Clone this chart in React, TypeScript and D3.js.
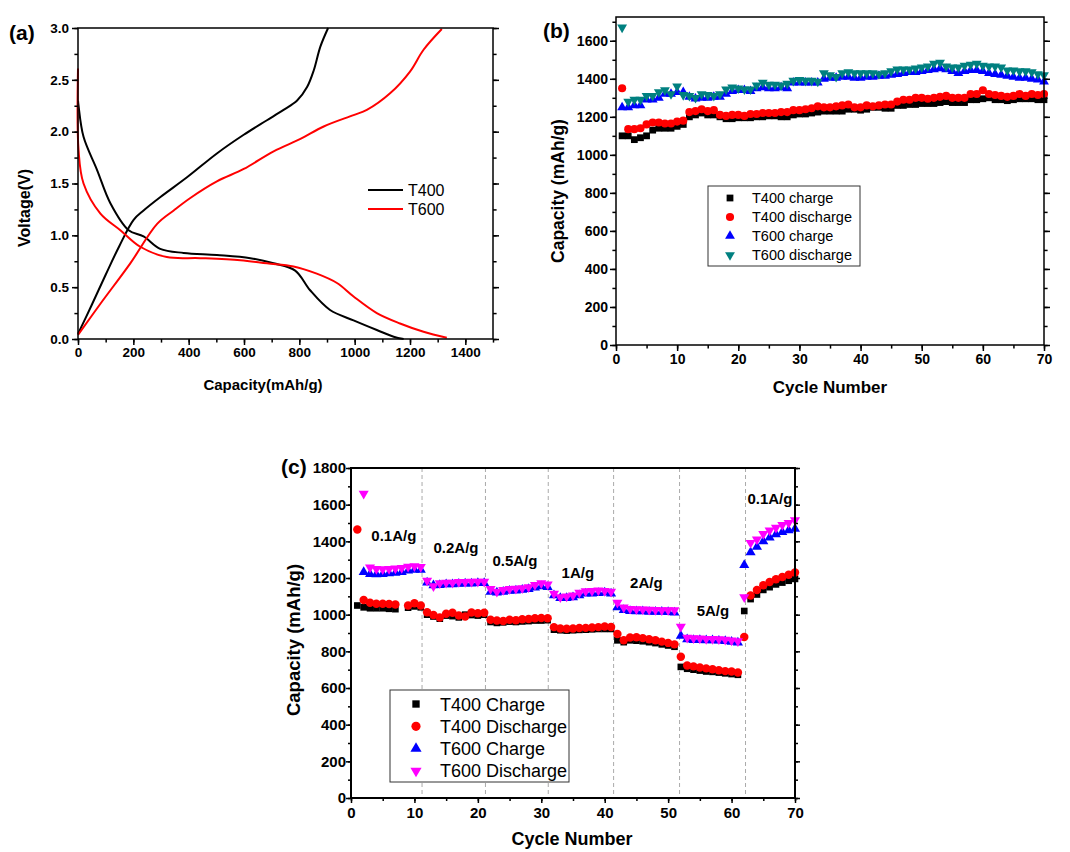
import React, { useEffect, useRef } from 'react';
import * as d3 from 'd3';

const FONT = "'Liberation Sans', Arial, Helvetica, sans-serif";

// ---- (a) charge / discharge profiles ----
const t400ChargeCap = [0, 50, 100, 150, 201, 237, 298, 394, 502, 599, 683, 743, 792, 828, 852, 876, 904];
const t400ChargeV = [0.05, 0.33, 0.62, 0.9, 1.15, 1.24, 1.37, 1.56, 1.79, 1.97, 2.11, 2.21, 2.3, 2.43, 2.59, 2.82, 3.0];
const t400DischargeCap = [0, 2, 20, 69, 117, 183, 237, 297, 382, 502, 623, 707, 785, 839, 911, 996, 1080, 1141, 1177];
const t400DischargeV = [2.3, 2.25, 1.95, 1.63, 1.31, 1.05, 0.99, 0.87, 0.83, 0.81, 0.78, 0.73, 0.66, 0.47, 0.28, 0.18, 0.087, 0.022, 0.0];
const t600ChargeCap = [0, 81, 189, 286, 346, 406, 502, 599, 707, 804, 888, 996, 1044, 1128, 1200, 1249, 1315];
const t600ChargeV = [0.04, 0.34, 0.73, 1.11, 1.24, 1.36, 1.52, 1.64, 1.81, 1.93, 2.05, 2.16, 2.21, 2.37, 2.58, 2.79, 2.99];
const t600DischargeCap = [0, 2, 20, 81, 153, 225, 321, 442, 587, 683, 779, 863, 936, 996, 1080, 1164, 1249, 1333];
const t600DischargeV = [2.61, 1.82, 1.5, 1.21, 1.05, 0.89, 0.79, 0.78, 0.76, 0.73, 0.7, 0.63, 0.54, 0.41, 0.25, 0.15, 0.07, 0.013];

// ---- (b) cycling at constant rate, cycles 1..70 ----
const cyclesB = d3.range(1, 71);
const bT400Charge = [1100, 1100, 1080, 1090, 1100, 1130, 1140, 1140, 1140, 1150, 1160, 1200, 1210, 1220, 1210, 1210, 1200, 1190, 1190, 1195,
  1195, 1195, 1200, 1200, 1205, 1205, 1200, 1200, 1210, 1215, 1215, 1220, 1225, 1230, 1230, 1230, 1230, 1240, 1240, 1235,
  1240, 1250, 1250, 1245, 1245, 1260, 1260, 1265, 1265, 1270, 1270, 1270, 1275, 1280, 1275, 1275, 1275, 1290, 1290, 1295,
  1300, 1290, 1290, 1285, 1290, 1295, 1295, 1295, 1290, 1290];
const bT400Discharge = [1350, 1135, 1135, 1140, 1160, 1170, 1170, 1165, 1165, 1175, 1180, 1225, 1230, 1240, 1230, 1235, 1210, 1205, 1210, 1210,
  1205, 1215, 1215, 1220, 1220, 1220, 1225, 1225, 1235, 1235, 1240, 1245, 1255, 1250, 1250, 1255, 1260, 1265, 1250, 1250,
  1260, 1255, 1260, 1265, 1265, 1280, 1290, 1290, 1300, 1300, 1295, 1300, 1305, 1310, 1300, 1300, 1300, 1320, 1320, 1340,
  1320, 1315, 1310, 1305, 1310, 1320, 1310, 1320, 1315, 1320];
const bT600Charge = [1250, 1250, 1260, 1260, 1290, 1290, 1300, 1320, 1320, 1330, 1330, 1305, 1295, 1300, 1300, 1305, 1305, 1320, 1335, 1340,
  1340, 1335, 1350, 1355, 1350, 1350, 1355, 1350, 1380, 1380, 1380, 1380, 1380, 1400, 1405, 1405, 1410, 1410, 1405, 1405,
  1410, 1410, 1415, 1415, 1420, 1425, 1430, 1435, 1435, 1440, 1445, 1450, 1455, 1450, 1440, 1430, 1440, 1445, 1445, 1440,
  1430, 1425, 1420, 1415, 1410, 1405, 1405, 1400, 1395, 1385];
const bT600Discharge = [1670, 1280, 1290, 1290, 1310, 1310, 1330, 1340, 1320, 1360, 1315, 1310, 1300, 1320, 1315, 1310, 1320, 1345, 1355, 1350,
  1345, 1345, 1365, 1380, 1370, 1370, 1365, 1375, 1390, 1395, 1390, 1390, 1385, 1430, 1420, 1410, 1430, 1435, 1430, 1430,
  1430, 1430, 1425, 1430, 1440, 1450, 1450, 1450, 1455, 1460, 1465, 1480, 1485, 1465, 1460, 1460, 1470, 1475, 1480, 1470,
  1465, 1465, 1460, 1445, 1445, 1440, 1440, 1435, 1425, 1420];

// ---- (c) rate capability, cycles 1..70 ----
const cyclesC = d3.range(1, 71);
const cT400Charge = [1050, 1040, 1035, 1035, 1035, 1032, 1030, null, 1038, 1045, 1040,
  1000, 990, 978, 995, 992, 985, 1000, 998, 995, 1000,
  960, 955, 958, 962, 960, 963, 965, 968, 968, 970,
  918, 915, 913, 915, 917, 918, 920, 922, 922, 922,
  860, 850, 860, 858, 855, 850, 845, 838, 832, 825,
  715, 705, 700, 695, 690, 688, 684, 680, 676, 672,
  1020, 1085, 1110, 1135, 1150, 1165, 1175, 1185, 1195];
const cT400Discharge = [1465, 1080, 1065, 1060, 1060, 1058, 1055, null, 1050, 1062, 1050,
  1013, 998, 985, 1005, 1010, 995, 990, 1012, 1008, 1010,
  972, 968, 965, 972, 970, 975, 976, 980, 982, 980,
  932, 925, 923, 925, 927, 928, 930, 932, 935, 933,
  895, 860, 875, 877, 872, 866, 860, 853, 846, 838,
  770, 723, 718, 712, 707, 702, 697, 692, 690, 685,
  878, 1105, 1135, 1160, 1178, 1193, 1205, 1218, 1230];
const cT600Charge = [null, 1232, 1222, 1220, 1222, 1225, 1228, 1232, 1240, 1245, 1245,
  1175, 1160, 1162, 1165, 1165, 1168, 1170, 1170, 1172, 1172,
  1125, 1120, 1125, 1130, 1132, 1135, 1140, 1148, 1155, 1150,
  1105, 1090, 1090, 1095, 1105, 1115, 1115, 1118, 1120, 1115,
  1040, 1025, 1020, 1018, 1018, 1016, 1015, 1015, 1014, 1012,
  885, 865, 862, 862, 860, 860, 858, 856, 852, 848,
  1270, 1340, 1370, 1400, 1420, 1438, 1450, 1460, 1468];
const cT600Discharge = [null, 1660, 1258, 1250, 1248, 1250, 1252, 1255, 1262, 1265, 1260,
  1185, 1155, 1172, 1175, 1175, 1178, 1178, 1180, 1180, 1180,
  1140, 1125, 1135, 1140, 1142, 1145, 1150, 1162, 1172, 1165,
  1115, 1095, 1100, 1105, 1120, 1128, 1130, 1132, 1130, 1125,
  1065, 1040, 1032, 1030, 1028, 1027, 1026, 1025, 1025, 1024,
  935, 875, 872, 870, 868, 868, 866, 864, 860, 855,
  1095, 1392, 1410, 1440, 1460, 1475, 1490, 1500, 1515];
const rateBoundaries = [11.2, 21.2, 31.1, 41.4, 51.8, 62.2];
const rateLabels = ['0.1A/g', '0.2A/g', '0.5A/g', '1A/g', '2A/g', '5A/g', '0.1A/g'];
const rateLabelCycle = [3.2, 13, 22.3, 33.2, 44, 54.5, 62.5];
const rateLabelCap = [1403, 1334, 1267, 1200, 1146, 995, 1602];

const legendA = ['T400', 'T600'];
const legendB = ['T400 charge', 'T400 discharge', 'T600 charge', 'T600 discharge'];
const legendC = ['T400 Charge', 'T400 Discharge', 'T600 Charge', 'T600 Discharge'];

// Panel boxes (pixel frame of each plot area)
const boxA = { left: 78, right: 493, top: 28, bottom: 339 };
const boxB = { left: 616, right: 1044, top: 17, bottom: 345 };
const boxC = { left: 351, right: 795, top: 468, bottom: 798 };

function styleAxis(g, size) {
    g.select('.domain').remove();
    g.selectAll('line').attr('stroke', '#000').attr('stroke-width', 1.5);
    g.selectAll('text')
        .attr('font-family', FONT)
        .attr('font-weight', 'bold')
        .attr('font-size', size)
        .attr('fill', '#000');
}

// Frame + ticks on left, bottom and right (outward), like Origin
function drawFrame(svg, x, y, box, cfg) {
    const g = svg.append('g');
    const t = cfg.tick;

    g.append('g').attr('transform', `translate(0,${box.bottom})`)
        .call(d3.axisBottom(x).tickValues(cfg.xMinor).tickSize(t * 0.6).tickFormat(() => ''))
        .call(s => styleAxis(s, cfg.font));
    g.append('g').attr('transform', `translate(0,${box.bottom})`)
        .call(d3.axisBottom(x).tickValues(cfg.xMajor).tickSize(t).tickPadding(cfg.xPad).tickFormat(cfg.xFmt))
        .call(s => styleAxis(s, cfg.font));

    g.append('g').attr('transform', `translate(${box.left},0)`)
        .call(d3.axisLeft(y).tickValues(cfg.yMinor).tickSize(t * 0.6).tickFormat(() => ''))
        .call(s => styleAxis(s, cfg.font));
    g.append('g').attr('transform', `translate(${box.left},0)`)
        .call(d3.axisLeft(y).tickValues(cfg.yMajor).tickSize(t).tickPadding(cfg.yPad).tickFormat(cfg.yFmt))
        .call(s => styleAxis(s, cfg.font));

    g.append('g').attr('transform', `translate(${box.right},0)`)
        .call(d3.axisRight(y).tickValues(cfg.yMinor).tickSize(t * 0.6).tickFormat(() => ''))
        .call(s => styleAxis(s, cfg.font));
    g.append('g').attr('transform', `translate(${box.right},0)`)
        .call(d3.axisRight(y).tickValues(cfg.yMajor).tickSize(t).tickFormat(() => ''))
        .call(s => styleAxis(s, cfg.font));

    g.append('rect')
        .attr('x', box.left).attr('y', box.top)
        .attr('width', box.right - box.left).attr('height', box.bottom - box.top)
        .attr('fill', 'none').attr('stroke', '#000').attr('stroke-width', cfg.frame);
}

function boldText(svg, txt, x, y, size, anchor = 'start', rotate = false) {
    const t = svg.append('text')
        .attr('font-family', FONT).attr('font-weight', 'bold')
        .attr('font-size', size).attr('text-anchor', anchor).attr('fill', '#000')
        .text(txt);
    if (rotate) t.attr('transform', `translate(${x},${y}) rotate(-90)`);
    else t.attr('x', x).attr('y', y);
    return t;
}

const symbolOf = (kind, size) => {
    const type = kind === 'square' ? d3.symbolSquare : kind === 'circle' ? d3.symbolCircle : d3.symbolTriangle;
    return d3.symbol().type(type).size(size)();
};

function scatter(svg, x, y, cycles, values, kind, color, size) {
    const pts = values.map((v, i) => ({ c: cycles[i], v })).filter(d => d.v != null);
    const path = symbolOf(kind, size);
    svg.append('g').selectAll('path')
        .data(pts)
        .join('path')
        .attr('d', path)
        .attr('fill', color)
        .attr('transform', d => `translate(${x(d.c)},${y(d.v)})${kind === 'down' ? ' rotate(180)' : ''}`);
}

function App() {
    const ref = useRef(null);

    useEffect(() => {
        const svg = d3.select(ref.current);
        svg.selectAll('*').remove();

        // ================= (a) =================
        const xA = d3.scaleLinear().domain([0, 1500]).range([boxA.left, boxA.right]);
        const yA = d3.scaleLinear().domain([0, 3]).range([boxA.bottom, boxA.top]);
        const line = d3.line().x(d => xA(d[0])).y(d => yA(d[1])).curve(d3.curveCatmullRom);
        const curvesA = [
            { cap: t400ChargeCap, v: t400ChargeV, color: '#000' },
            { cap: t400DischargeCap, v: t400DischargeV, color: '#000' },
            { cap: t600ChargeCap, v: t600ChargeV, color: '#f00' },
            { cap: t600DischargeCap, v: t600DischargeV, color: '#f00' },
        ];
        curvesA.forEach(c => {
            svg.append('path')
                .datum(c.cap.map((x, i) => [x, c.v[i]]))
                .attr('d', line)
                .attr('fill', 'none')
                .attr('stroke', c.color)
                .attr('stroke-width', 2);
        });
        drawFrame(svg, xA, yA, boxA, {
            xMajor: d3.range(0, 1401, 200), xMinor: d3.range(0, 1501, 100),
            yMajor: d3.range(0, 3.01, 0.5), yMinor: d3.range(0, 3.01, 0.25),
            xFmt: d3.format('d'), yFmt: d3.format('.1f'),
            tick: 6, xPad: 2, yPad: 3, font: 13.5, frame: 1.5,
        });
        // legend (a)
        legendA.forEach((name, i) => {
            const ly = 190 + i * 19;
            svg.append('line').attr('x1', 368).attr('x2', 403).attr('y1', ly).attr('y2', ly)
                .attr('stroke', i === 0 ? '#000' : '#f00').attr('stroke-width', 2);
            svg.append('text').attr('x', 408).attr('y', ly + 6)
                .attr('font-family', FONT).attr('font-size', 16).text(name);
        });
        boldText(svg, 'Capacity(mAh/g)', 263, 390, 15, 'middle');
        boldText(svg, 'Voltage(V)', 30, 208, 16, 'middle', true);
        boldText(svg, '(a)', 9, 40, 21);

        // ================= (b) =================
        const xB = d3.scaleLinear().domain([0, 70]).range([boxB.left, boxB.right]);
        const yB = d3.scaleLinear().domain([0, 1725]).range([boxB.bottom, boxB.top]);
        const seriesB = [
            { v: bT400Charge, kind: 'square', color: '#000', size: 46 },
            { v: bT400Discharge, kind: 'circle', color: '#f00', size: 52 },
            { v: bT600Charge, kind: 'up', color: '#00f', size: 42 },
            { v: bT600Discharge, kind: 'down', color: '#008080', size: 42 },
        ];
        seriesB.forEach(s => scatter(svg, xB, yB, cyclesB, s.v, s.kind, s.color, s.size));
        drawFrame(svg, xB, yB, boxB, {
            xMajor: d3.range(0, 71, 10), xMinor: d3.range(0, 71, 5),
            yMajor: d3.range(0, 1601, 200), yMinor: d3.range(0, 1701, 100),
            xFmt: d3.format('d'), yFmt: d3.format('d'),
            tick: 6, xPad: 3, yPad: 2, font: 14, frame: 1.5,
        });
        svg.append('rect').attr('x', 708).attr('y', 186).attr('width', 152).attr('height', 80)
            .attr('fill', '#fff').attr('stroke', '#333').attr('stroke-width', 1);
        legendB.forEach((name, i) => {
            const ly = 198 + i * 19;
            const s = seriesB[i];
            svg.append('path').attr('d', symbolOf(s.kind, s.size)).attr('fill', s.color)
                .attr('transform', `translate(730,${ly})${s.kind === 'down' ? ' rotate(180)' : ''}`);
            svg.append('text').attr('x', 752).attr('y', ly + 5)
                .attr('font-family', FONT).attr('font-size', 14.5).text(name);
        });
        boldText(svg, 'Cycle Number', 830, 393, 17, 'middle');
        boldText(svg, 'Capacity (mAh/g)', 564, 191, 17.5, 'middle', true);
        boldText(svg, '(b)', 543, 38, 21);

        // ================= (c) =================
        const xC = d3.scaleLinear().domain([0, 70]).range([boxC.left, boxC.right]);
        const yC = d3.scaleLinear().domain([0, 1800]).range([boxC.bottom, boxC.top]);
        svg.append('g').selectAll('line')
            .data(rateBoundaries)
            .join('line')
            .attr('x1', d => xC(d)).attr('x2', d => xC(d))
            .attr('y1', boxC.top).attr('y2', boxC.bottom)
            .attr('stroke', '#aaa').attr('stroke-width', 1).attr('stroke-dasharray', '4,3');
        const seriesC = [
            { v: cT400Charge, kind: 'square', color: '#000', size: 44 },
            { v: cT400Discharge, kind: 'circle', color: '#f00', size: 56 },
            { v: cT600Charge, kind: 'up', color: '#00f', size: 44 },
            { v: cT600Discharge, kind: 'down', color: '#f0f', size: 44 },
        ];
        seriesC.forEach(s => scatter(svg, xC, yC, cyclesC, s.v, s.kind, s.color, s.size));
        drawFrame(svg, xC, yC, boxC, {
            xMajor: d3.range(0, 71, 10), xMinor: d3.range(0, 71, 5),
            yMajor: d3.range(0, 1801, 200), yMinor: d3.range(0, 1801, 100),
            xFmt: d3.format('d'), yFmt: d3.format('d'),
            tick: 5, xPad: 4, yPad: 0, font: 15, frame: 2,
        });
        rateLabels.forEach((txt, i) => {
            boldText(svg, txt, xC(rateLabelCycle[i]), yC(rateLabelCap[i]), 15);
        });
        svg.append('rect').attr('x', 390).attr('y', 690).attr('width', 179).attr('height', 92)
            .attr('fill', '#fff').attr('stroke', '#333').attr('stroke-width', 1);
        legendC.forEach((name, i) => {
            const ly = 704 + i * 22.3;
            const s = seriesC[i];
            svg.append('path').attr('d', symbolOf(s.kind, s.size + 10)).attr('fill', s.color)
                .attr('transform', `translate(416,${ly})${s.kind === 'down' ? ' rotate(180)' : ''}`);
            svg.append('text').attr('x', 440).attr('y', ly + 6.5)
                .attr('font-family', FONT).attr('font-size', 18).text(name);
        });
        boldText(svg, 'Cycle Number', 572, 845, 18, 'middle');
        boldText(svg, 'Capacity (mAh/g)', 300, 640, 18.5, 'middle', true);
        boldText(svg, '(c)', 281, 474, 21);
    }, []);

    return (
        <svg
            ref={ref}
            width={1070}
            height={852}
            style={{ position: 'absolute', left: 0, top: 0, background: '#fff' }}
        />
    );
}

export default App;
